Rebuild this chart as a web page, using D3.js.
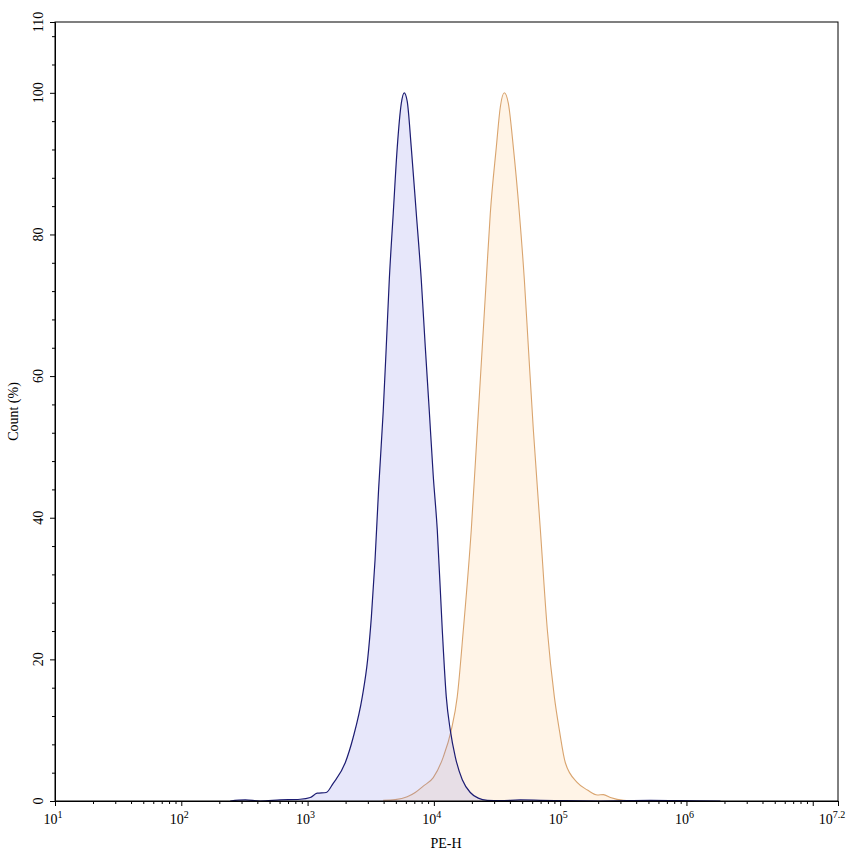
<!DOCTYPE html>
<html>
<head>
<meta charset="utf-8">
<script src="https://cdn.jsdelivr.net/npm/d3@7"></script>
<style>
  html, body { margin: 0; padding: 0; background: #fff; }
  svg { display: block; }
  text { font-family: "Liberation Serif", "DejaVu Serif", serif; fill: #000; }
</style>
</head>
<body>
<svg id="chart" width="853" height="856"></svg>
<script>
// ---- data (PE-H intensity, Count %) ----
const blueX = [244, 321, 421, 607, 873, 1050, 1192, 1404, 1595, 1987, 2298, 2710, 2990, 3200, 3420, 3650, 3970, 4197, 4436, 4768, 5129, 5521, 5823, 6152, 6622, 7256, 7947, 8551, 9204, 9880, 10640, 11660, 12540, 13490, 14790, 16790, 19420, 22470, 26500, 33580, 48400, 69700, 100500, 208400, 519000, 896000, 1858000];
const blueY = [0, 0.15, 0, 0.15, 0.25, 0.5, 1.1, 1.2, 2.5, 5.4, 9, 14.7, 20, 26, 34, 44, 55, 64.1, 73.6, 83, 92.3, 98.5, 100, 98.8, 92.3, 83, 73.6, 64.1, 55, 46, 38.3, 24.1, 14.7, 10, 6.2, 3, 1.2, 0.4, 0.1, 0.05, 0.15, 0.1, 0.05, 0, 0.1, 0.05, 0];

const orangeX = [3970, 4940, 6150, 7120, 8240, 9890, 11860, 13730, 15310, 17100, 19780, 22070, 24170, 26000, 27980, 31210, 33580, 36130, 38880, 42590, 47530, 52050, 55990, 61350, 69700, 79200, 89960, 98570, 109900, 136800, 164300, 197200, 219900, 249900, 316900, 432400];
const orangeY = [0.1, 0.2, 0.6, 1.2, 2.1, 3.3, 6.2, 10, 14.7, 24.1, 38.3, 52.4, 64.1, 73.6, 83, 92.3, 98, 100, 98.5, 92.3, 83, 73.6, 64.1, 52.4, 38.3, 24.1, 14.7, 10, 5.4, 2.6, 1.55, 0.85, 0.9, 0.5, 0.1, 0];

const xMajorExp = [1, 2, 3, 4, 5, 6, 7];
const xLabelExp = ["1", "2", "3", "4", "5", "6", "7.2"];
const yTickValues = [0, 20, 40, 60, 80, 100, 110];
const xTitle = "PE-H";
const yTitle = "Count (%)";

// ---- layout ----
const svg = d3.select("#chart");
const L = 55, R = 838, T = 22, B = 801;
const x = d3.scaleLog().domain([10, Math.pow(10, 7.2)]).range([L, R]);
const y = d3.scaleLinear().domain([0, 110]).range([B, T]);

function series(xs, ys) { return xs.map((v, i) => ({ x: v, y: ys[i] })); }
const area = d3.area().x(d => x(d.x)).y0(y(0)).y1(d => y(d.y)).curve(d3.curveMonotoneX);
const line = d3.line().x(d => x(d.x)).y(d => y(d.y)).curve(d3.curveMonotoneX);

const orange = series(orangeX, orangeY);
const blue = series(blueX, blueY);

svg.append("path").datum(orange).attr("d", area).attr("fill", "#fff4e7");
svg.append("path").datum(orange).attr("d", line).attr("fill", "none").attr("stroke", "#d9a46e").attr("stroke-width", 1.1);
svg.append("path").datum(blue).attr("d", area).attr("fill", "rgb(120,120,230)").attr("fill-opacity", 0.18);
svg.append("path").datum(blue).attr("d", line).attr("fill", "none").attr("stroke", "#1c1c72").attr("stroke-width", 1.2);

// frame
svg.append("rect").attr("x", L).attr("y", T).attr("width", R - L).attr("height", B - T)
  .attr("fill", "none").attr("stroke", "#000").attr("stroke-width", 1);

// y axis
const yMinor = d3.range(0, 110.01, 4).filter(v => v % 20 !== 0);
svg.append("g").attr("transform", `translate(${L},0)`)
  .call(d3.axisLeft(y).tickValues(yMinor).tickSize(3).tickFormat(""))
  .call(g => g.select(".domain").remove());
svg.append("g").attr("transform", `translate(${L},0)`)
  .call(d3.axisLeft(y).tickValues(yTickValues).tickSize(5).tickFormat(""))
  .call(g => g.select(".domain").attr("stroke", "#000"));
svg.append("g").selectAll("text").data(yTickValues).join("text")
  .attr("transform", d => `translate(43,${y(d)}) rotate(-90)`)
  .attr("text-anchor", "middle").attr("font-size", 14).text(d => d);
svg.append("text").attr("transform", `translate(18,${(T + B) / 2}) rotate(-90)`)
  .attr("text-anchor", "middle").attr("font-size", 14).text(yTitle);

// x axis
const xMinor = [];
for (let e = 1; e <= 7; e++) for (let k = 2; k <= 9; k++) {
  const v = k * Math.pow(10, e);
  if (v < Math.pow(10, 7.2)) xMinor.push(v);
}
svg.append("g").attr("transform", `translate(0,${B})`)
  .call(d3.axisBottom(x).tickValues(xMinor).tickSize(3).tickFormat(""))
  .call(g => g.select(".domain").remove());
const xMajorVals = xMajorExp.map(e => Math.pow(10, e)).concat([Math.pow(10, 7.2)]);
svg.append("g").attr("transform", `translate(0,${B})`)
  .call(d3.axisBottom(x).tickValues(xMajorVals).tickSize(5).tickFormat(""))
  .call(g => g.select(".domain").attr("stroke", "#000"));

const labelVals = xLabelExp.map(s => Math.pow(10, +s));
const xl = svg.append("g").selectAll("text").data(xLabelExp).join("text")
  .attr("x", (d, i) => x(labelVals[i]) - (d.length > 1 ? 6 : 2))
  .attr("y", 824).attr("text-anchor", "middle").attr("font-size", 14);
xl.append("tspan").text("10");
xl.append("tspan").attr("dy", -6).attr("font-size", 10).text(d => d);

svg.append("text").attr("x", 446).attr("y", 848).attr("text-anchor", "middle")
  .attr("font-size", 14).text(xTitle);
</script>
</body>
</html>
